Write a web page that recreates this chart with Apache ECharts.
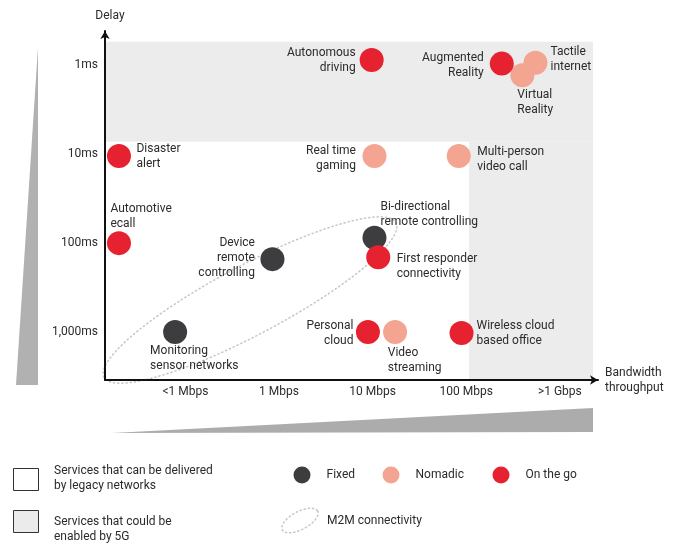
<!DOCTYPE html>
<html><head><meta charset="utf-8">
<script src="https://cdn.jsdelivr.net/npm/echarts@6/dist/echarts.min.js"></script>
<style>html,body{margin:0;padding:0;background:#fff}#c{width:680px;height:547px}</style>
</head><body><div id="c"></div>
<script>
// ---------- data ----------
const xTickValues = [1, 2, 3, 4, 5];
const xTickLabels = ['<1 Mbps', '1 Mbps', '10 Mbps', '100 Mbps', '>1 Gbps'];
const yTickValues = [0, 1, 2, 3];
const yTickLabels = ['1,000ms', '100ms', '10ms', '1ms'];

const fixedNames = ['Device\nremote\ncontrolling', 'Monitoring\nsensor networks', 'Bi-directional\nremote controlling'];
const fixedX = [1.93, 0.89, 3.02];
const fixedY = [0.82, 0.00, 1.06];

const nomadicNames = ['Tactile\ninternet', 'Virtual\nReality', 'Real time\ngaming', 'Multi-person\nvideo call', 'Video\nstreaming'];
const nomadicX = [4.74, 4.60, 3.02, 3.92, 3.24];
const nomadicY = [3.03, 2.89, 1.98, 1.98, 0.00];

const onTheGoNames = ['Autonomous\ndriving', 'Augmented\nReality', 'Disaster\nalert', 'Automotive\necall', 'First responder\nconnectivity', 'Personal\ncloud', 'Wireless cloud\nbased office'];
const onTheGoX = [2.99, 4.38, 0.29, 0.29, 3.06, 2.95, 3.95];
const onTheGoY = [3.06, 3.02, 1.98, 1.00, 0.84, 0.00, -0.01];

// axis ranges
const xMin = 0.141, xMax = 5.408;
const yMin = -0.540, yMax = 3.387;

// 5G zone (data units): [x0, y0, x1, y1]
const zone5G = [[xMin, 2.14, 5.355, 3.265], [4.03, yMin, 5.355, 2.14]];

// M2M connectivity ellipse: two ends of major axis (data units) and minor/major ratio
const m2mEnds = [[0.13, -0.51], [3.25, 1.23]];
const m2mRatio = 0.21;

// ---------- styling / layout ----------
const FONT = 'Roboto';
const TXT = '#2b2b2b';
const COL_FIXED = '#3d3d3f', COL_NOMADIC = '#f4a592', COL_GO = '#e62230';
const ZONE = '#ececec';

// label placement: [dx, dy, align] pixel offset from point centre
const labelPlace = {
  'Autonomous\ndriving': [-16, 0, 'right'],
  'Augmented\nReality': [-18, 2, 'right'],
  'Tactile\ninternet': [15, -3, 'left'],
  'Virtual\nReality': [-5, 27, 'left'],
  'Disaster\nalert': [17.5, 0.5, 'left'],
  'Real time\ngaming': [-18.5, 2.5, 'right'],
  'Multi-person\nvideo call': [18.5, 3.5, 'left'],
  'Automotive\necall': [-8.5, -27, 'left'],
  'Device\nremote\ncontrolling': [-17.5, -1.3, 'right'],
  'Monitoring\nsensor networks': [-25, 26, 'left'],
  'Bi-directional\nremote controlling': [6, -23.5, 'left'],
  'First responder\nconnectivity': [18.5, 9, 'left'],
  'Personal\ncloud': [-14.5, 1.8, 'right'],
  'Video\nstreaming': [-7.3, 28.5, 'left'],
  'Wireless cloud\nbased office': [15, 1, 'left']
};

const SYM = 24;
function makeSeries(name, names, xs, ys, color, extra) {
  const s = {
    type: 'scatter', name: name, symbol: 'circle', symbolSize: SYM,
    itemStyle: { color: color, opacity: 1 },
    emphasis: { disabled: true },
    z: 3,
    data: names.map(function (n, i) {
      const p = labelPlace[n];
      return {
        name: n, value: [xs[i], ys[i]],
        label: {
          show: true, position: [SYM / 2 + p[0], SYM / 2 + p[1]],
          align: p[2], verticalAlign: 'middle',
          formatter: n, fontFamily: FONT, fontSize: 12, lineHeight: 15, color: TXT
        }
      };
    })
  };
  return Object.assign(s, extra || {});
}

const chart = echarts.init(document.getElementById('c'), null, { renderer: 'canvas' });

function ellipsePoints(cx, cy, a, b, ang, n) {
  const pts = [];
  const c = Math.cos(ang), s = Math.sin(ang);
  for (let i = 0; i < n; i++) {
    const t = 2 * Math.PI * i / n;
    const ex = a * Math.cos(t), ey = b * Math.sin(t);
    pts.push([cx + ex * c - ey * s, cy + ex * s + ey * c]);
  }
  return pts;
}

const legendText = { fontFamily: FONT, fontSize: 12, color: TXT, padding: [0, 0, 0, 11] };
function oneLegend(name, left) {
  return { data: [name], left: left, top: 466.5, orient: 'horizontal', padding: 0,
    itemWidth: 17, itemHeight: 17, icon: 'circle', selectedMode: false, textStyle: legendText };
}

const dotted = { fill: 'none', stroke: '#c6c6c6', lineWidth: 1.5, lineDash: [1.2, 3], lineCap: 'round' };

const option = {
  backgroundColor: '#fff',
  animation: false,
  grid: { left: 105, right: 82, top: 31, bottom: 167, containLabel: false, outerBoundsMode: 'none' },
  xAxis: {
    type: 'value', min: xMin, max: xMax, z: 10,
    name: 'Bandwidth\nthroughput', nameLocation: 'end', nameGap: 7,
    nameTextStyle: { fontFamily: FONT, fontSize: 12, color: TXT, lineHeight: 15, align: 'left', verticalAlign: 'middle' },
    axisLine: { show: true, onZero: false, lineStyle: { color: '#111', width: 2 }, symbol: ['none', 'arrow'], symbolSize: [7, 8] },
    axisTick: { show: false },
    splitLine: { show: false },
    axisLabel: {
      show: true, customValues: xTickValues, margin: 6,
      formatter: function (v) { return xTickLabels[xTickValues.indexOf(Math.round(v))] || ''; },
      fontFamily: FONT, fontSize: 12, color: TXT
    }
  },
  yAxis: {
    type: 'value', min: yMin, max: yMax, z: 10,
    name: 'Delay', nameLocation: 'end', nameGap: 9,
    nameTextStyle: { fontFamily: FONT, fontSize: 12, color: TXT, padding: [0, 0, 0, 10] },
    axisLine: { show: true, onZero: false, lineStyle: { color: '#111', width: 2 }, symbol: ['none', 'arrow'], symbolSize: [7, 8] },
    axisTick: { show: false },
    splitLine: { show: false },
    axisLabel: {
      show: true, customValues: yTickValues, margin: 7,
      formatter: function (v) { return yTickLabels[yTickValues.indexOf(Math.round(v))] || ''; },
      fontFamily: FONT, fontSize: 12, color: TXT
    }
  },
  legend: [oneLegend('Fixed', 293.5), oneLegend('Nomadic', 382.5), oneLegend('On the go', 492.5)],
  series: [
    {
      type: 'custom', name: 'M2M connectivity', silent: true, z: 2,
      data: [[m2mEnds[0][0], m2mEnds[0][1], m2mEnds[1][0], m2mEnds[1][1]]],
      renderItem: function (params, api) {
        const p1 = api.coord([api.value(0), api.value(1)]);
        const p2 = api.coord([api.value(2), api.value(3)]);
        const cx = (p1[0] + p2[0]) / 2, cy = (p1[1] + p2[1]) / 2;
        const a = Math.hypot(p2[0] - p1[0], p2[1] - p1[1]) / 2;
        const ang = Math.atan2(p2[1] - p1[1], p2[0] - p1[0]);
        return {
          type: 'polygon',
          shape: { points: ellipsePoints(cx, cy, a, a * m2mRatio, ang, 160) },
          style: dotted
        };
      },
      markArea: {
        silent: true,
        itemStyle: { color: ZONE, borderWidth: 0 },
        data: zone5G.map(function (r) { return [{ xAxis: r[0], yAxis: r[1] }, { xAxis: r[2], yAxis: r[3] }]; })
      }
    },
    makeSeries('Fixed', fixedNames, fixedX, fixedY, COL_FIXED),
    makeSeries('Nomadic', nomadicNames, nomadicX, nomadicY, COL_NOMADIC),
    makeSeries('On the go', onTheGoNames, onTheGoX, onTheGoY, COL_GO)
  ],
  graphic: [
    { type: 'polygon', silent: true, shape: { points: [[38, 47], [38, 385], [16, 385]] }, style: { fill: '#b1b1b1' } },
    { type: 'polygon', silent: true, shape: { points: [[112, 433], [593, 408], [593, 432]] }, style: { fill: '#acacac' } },
    { type: 'rect', silent: true, shape: { x: 13.5, y: 468.5, width: 25, height: 22 }, style: { fill: '#fff', stroke: '#333', lineWidth: 1 } },
    { type: 'rect', silent: true, shape: { x: 13.5, y: 510.5, width: 25, height: 22 }, style: { fill: '#ebebeb', stroke: '#333', lineWidth: 1 } },
    { type: 'text', silent: true, x: 54, y: 478, style: { text: 'Services that can be delivered\nby legacy networks', fontFamily: FONT, fontSize: 12, lineHeight: 15, fill: TXT, verticalAlign: 'middle' } },
    { type: 'text', silent: true, x: 54, y: 529.5, style: { text: 'Services that could be\nenabled by 5G', fontFamily: FONT, fontSize: 12, lineHeight: 15, fill: TXT, verticalAlign: 'middle' } },
    { type: 'polygon', silent: true, shape: { points: ellipsePoints(300, 520.5, 20, 9, -28 * Math.PI / 180, 60) }, style: dotted },
    { type: 'text', silent: true, x: 327, y: 521, style: { text: 'M2M connectivity', fontFamily: FONT, fontSize: 12, fill: TXT, verticalAlign: 'middle' } }
  ]
};
chart.setOption(option);
</script>
</body></html>
